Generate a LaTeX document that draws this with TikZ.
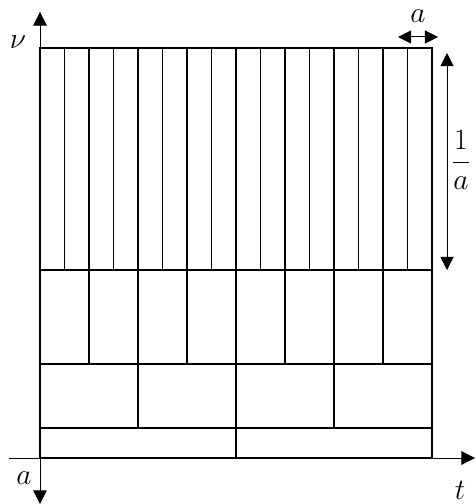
\RequirePackage{fix-cm}
\documentclass[tikz,border=0pt]{standalone}
\usepackage{tikz}
\usetikzlibrary{arrows.meta,positioning}

\begin{document}
\begin{tikzpicture}[every node/.style={font=\fontsize{21}{25}\selectfont}, thk/.style={line width=1.42pt}, thn/.style={line width=0.71pt}, axis/.style={line width=0.71pt,-{Triangle[length=3.4mm,width=3.4mm]}}, span/.style={line width=0.71pt,{Triangle[length=3.3mm,width=3.3mm]}-{Triangle[length=3.3mm,width=3.3mm]}}]
\useasboundingbox (-1.0,-1.15) rectangle (10.875,11.45);
% tiling of the plane
\foreach \k in {1,3,...,15} \draw[thn] (\k*0.6125,4.7) -- (\k*0.6125,10.25);
\foreach \k in {2,6,10,14} \draw[thk] (\k*0.6125,2.35) -- (\k*0.6125,10.25);
\foreach \k in {4,12} \draw[thk] (\k*0.6125,0.75) -- (\k*0.6125,10.25);
\draw[thk] (8*0.6125,0) -- (8*0.6125,10.25);
\foreach \y in {0.75,2.35,4.7} \draw[thk] (0,\y) -- (9.8,\y);
\draw[thk] (0,0) rectangle (9.8,10.25);
% axes
\coordinate (vtop) at (0,11.15);
\coordinate (abot) at (0,-1.15);
\coordinate (tleft) at (-0.775,0);
\coordinate (tright) at (10.875,0);
\coordinate (o) at (0,0);
\draw[axis] (o) -- (vtop);
\draw[axis] (o) -- (abot);
\draw[axis] (tleft) -- (tright);
\node (nu) at (-0.55,10.4) {$\nu$};
\node (alab) at (-0.4,-0.5) {$a$};
\node (tlab) at (10.5,-0.8) {$t$};
% sizes
\coordinate (wl) at (8.95,10.525);
\coordinate (wr) at (9.95,10.525);
\draw[span] (wl) -- (wr);
\node[inner sep=1pt] (wlab) at (9.45,11.05) {$a$};
\coordinate (ht) at (10.175,10.125);
\coordinate (hb) at (10.175,4.7);
\draw[span] (ht) -- (hb);
\node (hlab) at (10.525,7.45) {$\displaystyle\frac{1}{a}$};
\end{tikzpicture}
\end{document}
